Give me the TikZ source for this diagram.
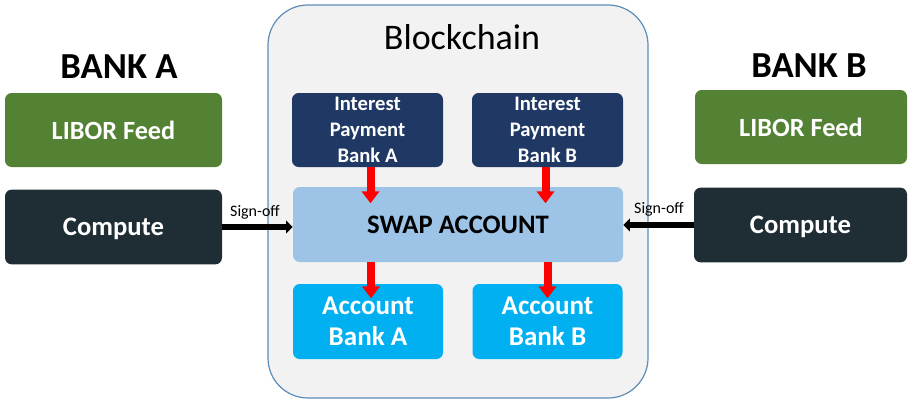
\documentclass[tikz,border=0pt]{standalone}
\usepackage{fontspec}
\setmainfont{Carlito}
\usetikzlibrary{arrows.meta}
\definecolor{navy}{HTML}{203864}
\definecolor{swapblue}{HTML}{9DC3E6}
\definecolor{acccyan}{HTML}{00B0F0}
\definecolor{libgreen}{HTML}{548235}
\definecolor{compdark}{HTML}{1E2E34}
\definecolor{chainfill}{HTML}{F2F2F2}
\definecolor{chainedge}{HTML}{5B8DB8}
\tikzset{
  box/.style={rectangle, rounded corners=5pt, inner sep=0pt, align=center, text=white, font=\bfseries},
  interestbox/.style={box, fill=navy, minimum width=113.25pt, minimum height=55.5pt, font=\fontsize{15.5}{19.5}\selectfont\bfseries},
  accbox/.style={box, fill=acccyan, minimum width=112.5pt, minimum height=56.25pt, font=\fontsize{20.3}{23.5}\selectfont\bfseries},
  libbox/.style={box, fill=libgreen, minimum height=55.5pt, font=\fontsize{19.7}{23}\selectfont\bfseries},
  compbox/.style={box, fill=compdark, minimum height=56pt, text depth=0pt, font=\fontsize{20}{23}\selectfont\bfseries},
  redarrow/.style={draw=red, line width=6pt, -{Triangle[width=13pt,length=9pt]}, red},
  blackarrow/.style={draw=black, line width=4.5pt, -{Triangle[width=9.5pt,length=5pt]}},
  banktitle/.style={anchor=base, font=\fontsize{27.5}{30}\selectfont\bfseries},
  signlabel/.style={anchor=base, font=\fontsize{12}{14}\selectfont},
}
\begin{document}
\begin{tikzpicture}[x=0.75pt, y=-0.75pt]
\useasboundingbox (0,0) rectangle (912,403);
% blockchain container
\node[draw=chainedge, line width=0.9pt, fill=chainfill, rounded corners=30pt,
      minimum width=285pt, minimum height=294.75pt, inner sep=0pt] (chain) at (458,201.5) {};
\node[anchor=base, font=\fontsize{27}{30}\selectfont] (chaintitle) at (462,50) {Blockchain};
% inner boxes
\node[interestbox] (ia) at (367.5,130) {Interest\\Payment\\Bank A};
\node[interestbox] (ib) at (547.5,130) {Interest\\Payment\\Bank B};
\node[box, fill=swapblue, text=black, minimum width=247.5pt, minimum height=56.25pt,
      font=\fontsize{20}{23}\selectfont\bfseries] (swap) at (458,224.5) {SWAP ACCOUNT};
\node[accbox] (aa) at (368,321.5) {Account\\Bank A};
\node[accbox] (ab) at (547.5,321.5) {Account\\Bank B};
% bank A
\node[banktitle] (banka) at (119,79) {BANK A};
\node[libbox, minimum width=162.75pt] (la) at (113.5,130) {LIBOR Feed};
\node[compbox, minimum width=162.75pt] (ca) at (113.5,227) {Compute};
% bank B
\node[banktitle] (bankb) at (809,77) {BANK B};
\node[libbox, minimum width=159pt] (lb) at (801,127) {LIBOR Feed};
\node[compbox, minimum width=159.75pt] (cb) at (800.5,225) {Compute};
% red arrows
\draw[redarrow] (ia.south) ++(3,0) -- ++(0,36);
\draw[redarrow] (ib.south) ++(-2,0) -- ++(0,36);
\draw[redarrow] (swap.south -| aa.north) ++(3,0) -- ++(0,36);
\draw[redarrow] (swap.south -| ab.north) -- ++(0,36);
% sign-off arrows
\draw[blackarrow] (ca.east) -- (ca.east -| swap.west);
\draw[blackarrow] (cb.west) -- (cb.west -| swap.east);
\node[signlabel] (sa) at (255,216) {Sign-off};
\node[signlabel] (sb) at (659,213) {Sign-off};
\end{tikzpicture}
\end{document}
